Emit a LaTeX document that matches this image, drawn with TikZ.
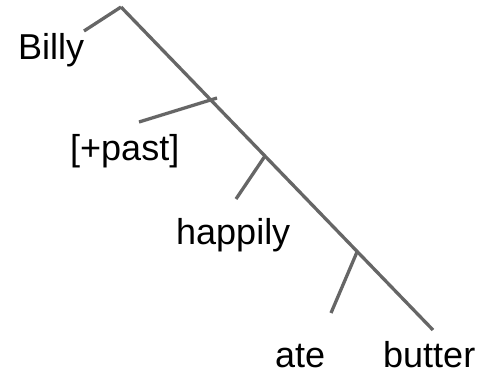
\documentclass[tikz,border=0pt]{standalone}
\usepackage{fontspec}
\setmainfont{Liberation Sans}
\begin{document}
\begin{tikzpicture}[x=1pt,y=-1pt,
  branch/.style={draw=black!60, line width=3.3pt},
  word/.style={anchor=base west, inner sep=0pt, font=\fontsize{36}{43}\selectfont, text=black}]
\useasboundingbox (0,0) rectangle (483,374);
% junctions
\coordinate (top) at (121,7);
\coordinate (j1) at (210,99);
\coordinate (j2) at (265,156);
\coordinate (j3) at (357,252);
\coordinate (bot) at (433,330);
% branch ends
\coordinate (eB) at (84,31);
\coordinate (eP) at (139,122);
\coordinate (eH) at (236,199);
\coordinate (eA) at (331,313);
\coordinate (j1x) at (217,98);
% words
\node[word] (billy) at (18,60) {Billy};
\node[word] (past) at (70,161) {[+past]};
\node[word] (happily) at (176,245) {happily};
\node[word] (ate) at (275,368) {ate};
\node[word] (butter) at (383,368) {butter};
% lines
\draw[branch] (top) -- (bot);
\draw[branch] (top) -- (eB);
\draw[branch] (j1x) -- (eP);
\draw[branch] (j2) -- (eH);
\draw[branch] (j3) -- (eA);
\end{tikzpicture}
\end{document}
